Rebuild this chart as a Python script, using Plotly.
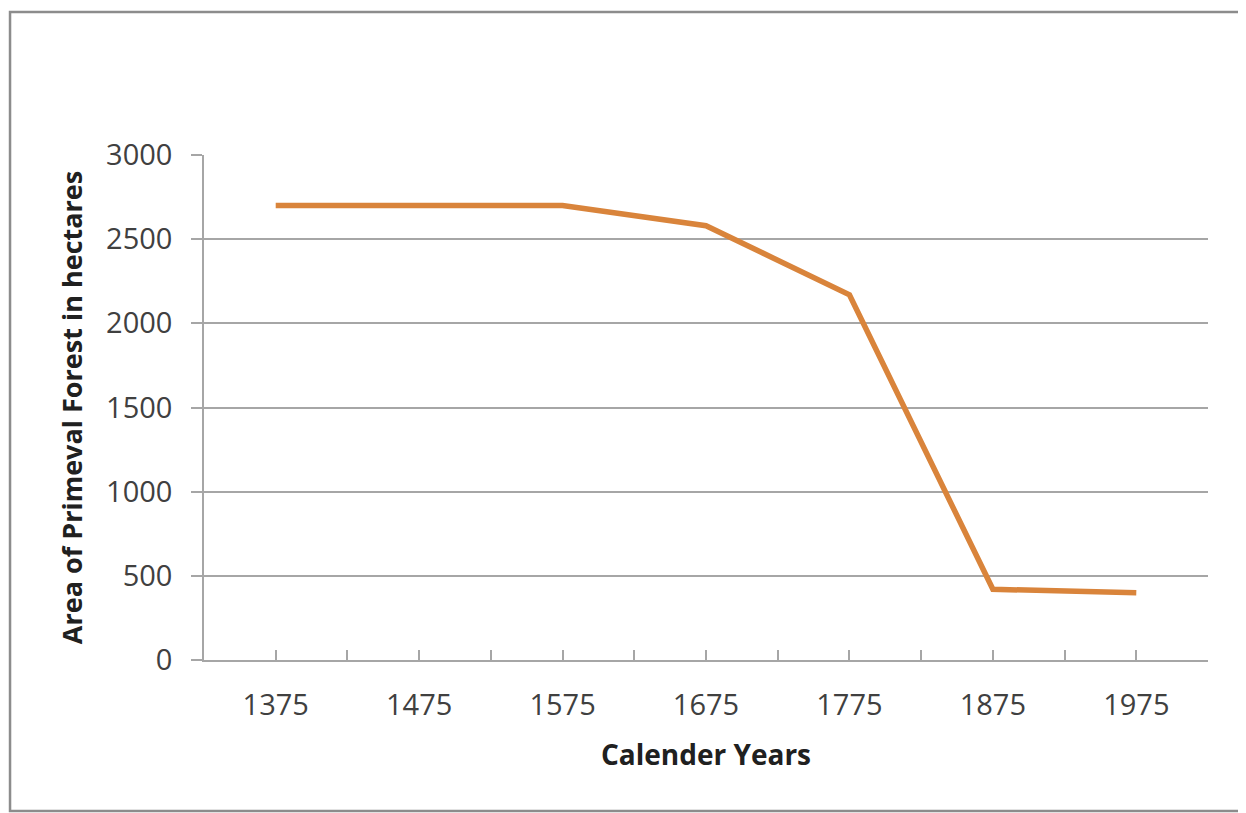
import plotly.graph_objects as go

years = [1375, 1475, 1575, 1675, 1775, 1875, 1975]
area = [2700, 2700, 2700, 2580, 2170, 420, 400]
x_tick_marks = [1325, 1375, 1425, 1475, 1525, 1575, 1625, 1675, 1725, 1775, 1825, 1875, 1925, 1975, 2025]
x_tick_labels = [str(v) if v in years else "" for v in x_tick_marks]
y_ticks = [0, 500, 1000, 1500, 2000, 2500, 3000]

FONT = "Open Sans"
GRID = "#a6a6a6"

fig = go.Figure()
fig.add_trace(go.Scatter(
    x=years, y=area, mode="lines",
    line=dict(color="#d9843b", width=5.5),
    showlegend=False, hoverinfo="x+y",
))

fig.update_layout(
    width=1238, height=805,
    margin=dict(l=196, r=38, t=147, b=153),
    paper_bgcolor="white", plot_bgcolor="white",
    font=dict(family=FONT, color="#404040"),
    xaxis=dict(
        range=[1325, 2025],
        tickmode="array", tickvals=x_tick_marks, ticktext=x_tick_labels,
        ticks="inside", ticklen=10, tickwidth=1.5, tickcolor=GRID,
        showline=True, linecolor=GRID, linewidth=1.5,
        showgrid=False, zeroline=False,
        tickfont=dict(family=FONT, size=29, color="#404040"),
        ticklabelstandoff=18,
        title=dict(text="<b>Calender Years</b>", font=dict(family=FONT, size=28, color="#202020"), standoff=24),
    ),
    yaxis=dict(
        range=[0, 3000],
        tickmode="array", tickvals=y_ticks,
        ticks="outside", ticklen=11, tickwidth=1.5, tickcolor=GRID,
        showline=True, linecolor=GRID, linewidth=1.5,
        showgrid=True, gridcolor=GRID, gridwidth=1.5,
        zeroline=False,
        tickfont=dict(family=FONT, size=29, color="#404040"),
        ticklabelstandoff=13,
        title=dict(text="<b>Area of Primeval Forest in hectares</b>", font=dict(family=FONT, size=27, color="#202020"), standoff=16),
    ),
    shapes=[dict(
        type="rect", xref="paper", yref="paper",
        x0=-0.1932, x1=1.0349, y0=-0.299, y1=1.2832,
        line=dict(color="#8c8c8c", width=2.5), fillcolor="rgba(0,0,0,0)", layer="below",
    )],
)

fig.write_html("out.html")
